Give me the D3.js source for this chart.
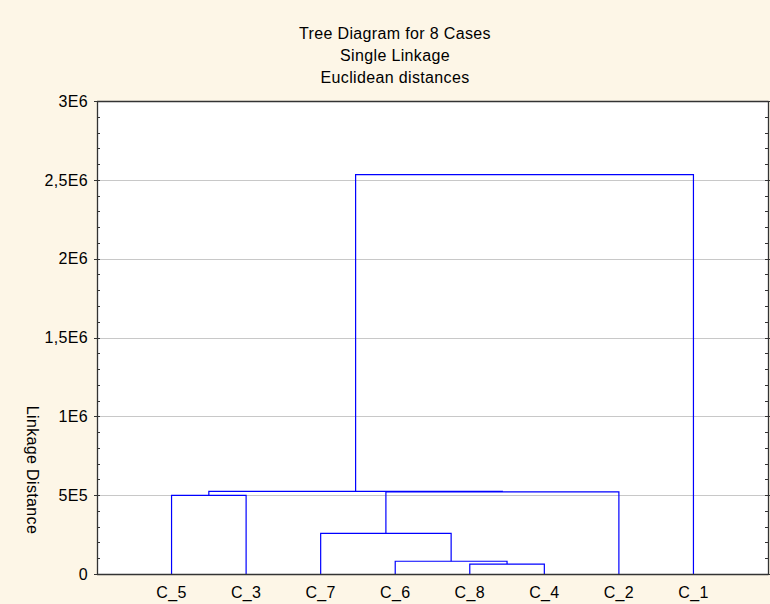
<!DOCTYPE html>
<html>
<head>
<meta charset="utf-8">
<script src="https://cdn.jsdelivr.net/npm/d3@7"></script>
<style>
  html, body { margin: 0; padding: 0; background: #FDF6E7; }
  svg { display: block; }
  text { font-family: "Liberation Sans", Arial, sans-serif; fill: #000; letter-spacing: 0.35px; }
</style>
</head>
<body>
<svg id="chart" width="770" height="604"></svg>
<script>
// ---- Data ----
const titleLines = ["Tree Diagram for 8 Cases", "Single Linkage", "Euclidean distances"];
const yAxisTitle = "Linkage Distance";
const leaves = ["C_5", "C_3", "C_7", "C_6", "C_8", "C_4", "C_2", "C_1"];
// merge steps (single linkage): cluster id, left member, right member, linkage distance
const mergeIds    = ["K1", "K2", "K3", "K4", "K5", "K6", "K7"];
const mergeLeft   = ["C_8", "C_6", "C_7", "C_5", "K3", "K4", "K6"];
const mergeRight  = ["C_4", "K1", "K2", "C_3", "C_2", "K5", "C_1"];
const mergeHeight = [63000, 81000, 258000, 499000, 521000, 524000, 2533000];
const yTickValues = [0, 500000, 1000000, 1500000, 2000000, 2500000, 3000000];
const yTickLabels = ["0", "5E5", "1E6", "1,5E6", "2E6", "2,5E6", "3E6"];
const yMinorStep = 100000;

// ---- Layout ----
const W = 770, H = 604;
const plot = { left: 97, right: 768, top: 101, bottom: 574 };
const svg = d3.select("#chart");

svg.append("rect").attr("x", 0).attr("y", 0).attr("width", W).attr("height", H).attr("fill", "#FDF6E7");
svg.append("rect")
  .attr("x", plot.left).attr("y", plot.top)
  .attr("width", plot.right - plot.left).attr("height", plot.bottom - plot.top)
  .attr("fill", "#ffffff");

const x = d3.scalePoint().domain(leaves).range([plot.left, plot.right]).padding(1);
const y = d3.scaleLinear().domain([0, 3000000]).range([plot.bottom, plot.top]);

// grid lines
svg.append("g").selectAll("line")
  .data(yTickValues.filter(v => v > 0 && v < 3000000))
  .join("line")
  .attr("x1", plot.left).attr("x2", plot.right)
  .attr("y1", d => Math.round(y(d)) + 0.5).attr("y2", d => Math.round(y(d)) + 0.5)
  .attr("stroke", "#c8c8c8").attr("stroke-width", 1);

// ---- Dendrogram ----
const pos = {};
leaves.forEach(l => { pos[l] = { x: x(l), h: 0 }; });
const links = svg.append("g").attr("fill", "none").attr("stroke", "#0000ff").attr("stroke-width", 1.2);
mergeIds.forEach((id, i) => {
  const a = pos[mergeLeft[i]], b = pos[mergeRight[i]], h = mergeHeight[i];
  const yh = y(h);
  links.append("path")
    .attr("d", `M${a.x},${y(a.h)}V${yh}H${b.x}V${y(b.h)}`);
  pos[id] = { x: (a.x + b.x) / 2, h: h };
});

// ---- Axes ----
const axisColor = "#333333";
const axisG = svg.append("g");
axisG.append("line").attr("x1", plot.left + 0.5).attr("x2", plot.left + 0.5)
  .attr("y1", plot.top).attr("y2", plot.bottom + 0.5).attr("stroke", axisColor).attr("stroke-width", 1.3);
axisG.append("line").attr("x1", plot.left).attr("x2", plot.right + 0.5)
  .attr("y1", plot.bottom + 0.5).attr("y2", plot.bottom + 0.5).attr("stroke", axisColor).attr("stroke-width", 1.3);
axisG.append("line").attr("x1", plot.left).attr("x2", plot.right + 0.5)
  .attr("y1", plot.top + 0.5).attr("y2", plot.top + 0.5).attr("stroke", axisColor).attr("stroke-width", 1.3);
axisG.append("line").attr("x1", plot.right + 0.5).attr("x2", plot.right + 0.5)
  .attr("y1", plot.top).attr("y2", plot.bottom + 0.5).attr("stroke", axisColor).attr("stroke-width", 1.3);

const minorVals = d3.range(0, 3000000 + 1, yMinorStep).filter(v => !yTickValues.includes(v));
axisG.selectAll("line.minorL").data(minorVals).join("line").attr("class", "minorL")
  .attr("x1", plot.left).attr("x2", plot.left + 3)
  .attr("y1", d => Math.round(y(d)) + 0.5).attr("y2", d => Math.round(y(d)) + 0.5)
  .attr("stroke", axisColor);
axisG.selectAll("line.minorR").data(minorVals).join("line").attr("class", "minorR")
  .attr("x1", plot.right - 3).attr("x2", plot.right)
  .attr("y1", d => Math.round(y(d)) + 0.5).attr("y2", d => Math.round(y(d)) + 0.5)
  .attr("stroke", axisColor);
axisG.selectAll("line.majorL").data(yTickValues).join("line").attr("class", "majorL")
  .attr("x1", plot.left - 3).attr("x2", plot.left + 3)
  .attr("y1", d => Math.round(y(d)) + 0.5).attr("y2", d => Math.round(y(d)) + 0.5)
  .attr("stroke", axisColor);
axisG.selectAll("line.majorR").data(yTickValues).join("line").attr("class", "majorR")
  .attr("x1", plot.right - 3).attr("x2", plot.right + 3)
  .attr("y1", d => Math.round(y(d)) + 0.5).attr("y2", d => Math.round(y(d)) + 0.5)
  .attr("stroke", axisColor);

// y tick labels
svg.append("g").selectAll("text").data(yTickValues).join("text")
  .attr("x", 88).attr("y", d => y(d)).attr("dy", "0.36em")
  .attr("text-anchor", "end").style("font-size", "16px")
  .text((d, i) => yTickLabels[i]);

// x tick labels
svg.append("g").selectAll("text").data(leaves).join("text")
  .attr("x", d => x(d)).attr("y", 598)
  .attr("text-anchor", "middle").style("font-size", "16px")
  .text(d => d);

// title
svg.append("g").selectAll("text").data(titleLines).join("text")
  .attr("x", 395).attr("y", (d, i) => 39 + i * 22)
  .attr("text-anchor", "middle").style("font-size", "16px")
  .text(d => d);

// y axis title
svg.append("text")
  .attr("transform", "translate(33,470) rotate(90)")
  .attr("text-anchor", "middle").attr("dy", "0.36em")
  .style("font-size", "16px")
  .text(yAxisTitle);
</script>
</body>
</html>
